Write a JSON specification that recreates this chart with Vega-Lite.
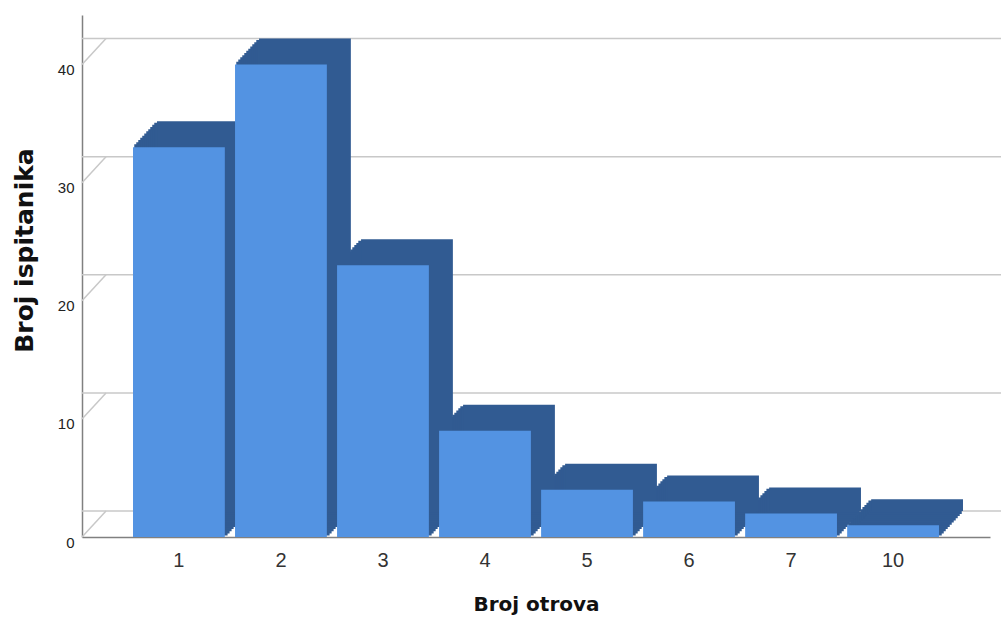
{
  "$schema": "https://vega.github.io/schema/vega-lite/v6.json",
  "autosize": "none",
  "width": 908,
  "height": 522,
  "padding": {"left": 82, "top": 15, "right": 11, "bottom": 85},
  "background": "white",
  "config": {
    "view": {"stroke": null},
    "axisY": {
      "ticks": false,
      "grid": false,
      "domainColor": "#808080",
      "domainWidth": 1.5,
      "labelFont": "Liberation Sans",
      "labelFontSize": 15,
      "labelColor": "#222222",
      "labelPadding": 8,
      "labelOffset": 5,
      "titleFont": "DejaVu Sans",
      "titleFontSize": 25,
      "titleFontWeight": "bold",
      "titleColor": "#111111",
      "titlePadding": 20,
      "titleY": 235
    },
    "axisX": {
      "ticks": false,
      "grid": false,
      "domainColor": "#808080",
      "domainWidth": 1.5,
      "labelAngle": 0,
      "labelFont": "Liberation Sans",
      "labelFontSize": 20,
      "labelColor": "#333333",
      "labelPadding": 13,
      "titleFont": "DejaVu Sans",
      "titleFontSize": 20,
      "titleFontWeight": "bold",
      "titleColor": "#111111",
      "titlePadding": 24
    }
  },
  "datasets": {
    "bars": [
      {"otrova": "1", "broj": 33},
      {"otrova": "2", "broj": 40},
      {"otrova": "3", "broj": 23},
      {"otrova": "4", "broj": 9},
      {"otrova": "5", "broj": 4},
      {"otrova": "6", "broj": 3},
      {"otrova": "7", "broj": 2},
      {"otrova": "10", "broj": 1}
    ],
    "grid": [{"v": 0}, {"v": 10}, {"v": 20}, {"v": 30}, {"v": 40}]
  },
  "layer": [
    {
      "data": {"name": "grid"},
      "mark": {"type": "rule", "color": "#c8c8c8", "strokeWidth": 1.5, "xOffset": 24, "x2Offset": 24, "yOffset": -26, "y2Offset": -26},
      "encoding": {
        "y": {"field": "v", "type": "quantitative", "title": "Broj ispitanika", "axis": {"values": [0, 10, 20, 30, 40]}, "scale": {"domain": [0, 44.2], "nice": false, "zero": true}}
      }
    },
    {
      "data": {"name": "grid"},
      "mark": {"type": "rule", "color": "#c8c8c8", "strokeWidth": 1.5, "y2Offset": -26},
      "encoding": {
        "x": {"value": 0},
        "x2": {"value": 24},
        "y": {"field": "v", "type": "quantitative", "title": "Broj ispitanika", "axis": {"values": [0, 10, 20, 30, 40]}},
        "y2": {"field": "v"}
      }
    },
    {
      "data": {"name": "bars"},
      "layer": [
        {"mark": {"type": "bar", "color": "#315b92", "stroke": "#315b92", "strokeWidth": 1.5, "xOffset": 2, "x2Offset": 2, "yOffset": -2.17, "y2Offset": -2.17}},
        {"mark": {"type": "bar", "color": "#315b92", "stroke": "#315b92", "strokeWidth": 1.5, "xOffset": 4, "x2Offset": 4, "yOffset": -4.33, "y2Offset": -4.33}},
        {"mark": {"type": "bar", "color": "#315b92", "stroke": "#315b92", "strokeWidth": 1.5, "xOffset": 6, "x2Offset": 6, "yOffset": -6.5, "y2Offset": -6.5}},
        {"mark": {"type": "bar", "color": "#315b92", "stroke": "#315b92", "strokeWidth": 1.5, "xOffset": 8, "x2Offset": 8, "yOffset": -8.67, "y2Offset": -8.67}},
        {"mark": {"type": "bar", "color": "#315b92", "stroke": "#315b92", "strokeWidth": 1.5, "xOffset": 10, "x2Offset": 10, "yOffset": -10.83, "y2Offset": -10.83}},
        {"mark": {"type": "bar", "color": "#315b92", "stroke": "#315b92", "strokeWidth": 1.5, "xOffset": 12, "x2Offset": 12, "yOffset": -13, "y2Offset": -13}},
        {"mark": {"type": "bar", "color": "#315b92", "stroke": "#315b92", "strokeWidth": 1.5, "xOffset": 14, "x2Offset": 14, "yOffset": -15.17, "y2Offset": -15.17}},
        {"mark": {"type": "bar", "color": "#315b92", "stroke": "#315b92", "strokeWidth": 1.5, "xOffset": 16, "x2Offset": 16, "yOffset": -17.33, "y2Offset": -17.33}},
        {"mark": {"type": "bar", "color": "#315b92", "stroke": "#315b92", "strokeWidth": 1.5, "xOffset": 18, "x2Offset": 18, "yOffset": -19.5, "y2Offset": -19.5}},
        {"mark": {"type": "bar", "color": "#315b92", "stroke": "#315b92", "strokeWidth": 1.5, "xOffset": 20, "x2Offset": 20, "yOffset": -21.67, "y2Offset": -21.67}},
        {"mark": {"type": "bar", "color": "#315b92", "stroke": "#315b92", "strokeWidth": 1.5, "xOffset": 22, "x2Offset": 22, "yOffset": -23.83, "y2Offset": -23.83}},
        {"mark": {"type": "bar", "color": "#315b92", "xOffset": 24, "x2Offset": 24, "yOffset": -26, "y2Offset": -26}},
        {"mark": {"type": "bar", "color": "#5393e2"}}
      ],
      "encoding": {
        "x": {"field": "otrova", "type": "ordinal", "sort": null, "title": "Broj otrova", "scale": {"paddingInner": 0.1, "paddingOuter": 0.5}},
        "y": {"field": "broj", "type": "quantitative", "title": "Broj ispitanika", "axis": {"values": [0, 10, 20, 30, 40]}}
      }
    }
  ]
}
